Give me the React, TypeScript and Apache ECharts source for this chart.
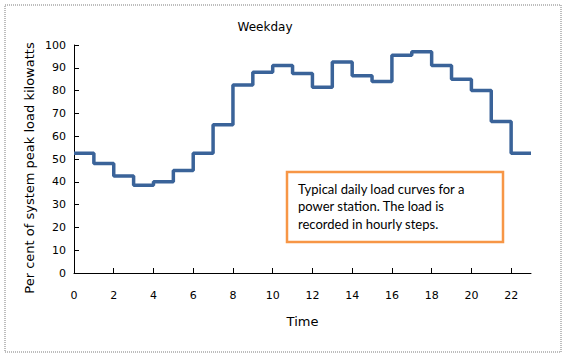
import React, { useEffect, useRef } from "react";
import * as echarts from "echarts";

const titleText = "Weekday";
const xAxisName = "Time";
const yAxisName = "Per cent of system peak load kilowatts";
const hours = [0, 1, 2, 3, 4, 5, 6, 7, 8, 9, 10, 11, 12, 13, 14, 15, 16, 17, 18, 19, 20, 21, 22];
const loadPercent = [52.5, 48, 42.5, 38.5, 40, 45, 52.5, 65, 82.5, 88, 91, 87.5, 81.5, 92.5, 86.5, 84, 95.5, 97, 91, 85, 80, 66.5, 52.5];
const xTickLabels = [0, 2, 4, 6, 8, 10, 12, 14, 16, 18, 20, 22];
const noteLines = [
  "Typical daily load curves for a",
  "power station. The load is",
  "recorded in hourly steps.",
];

export default function App() {
  const ref = useRef<HTMLDivElement>(null);
  useEffect(() => {
    if (!ref.current) return;
    const chart = echarts.init(ref.current, undefined, { renderer: "svg" });
    const data: [number, number][] = hours.map((h, i) => [h, loadPercent[i]]);
    data.push([hours[hours.length - 1] + 1, loadPercent[loadPercent.length - 1]]);
    const font = "DejaVu Sans";
    chart.setOption({
      animation: false,
      backgroundColor: "#ffffff",
      title: {
        text: titleText,
        left: 260,
        top: 16,
        textAlign: "center",
        textStyle: { fontFamily: font, fontSize: 12, fontWeight: "normal", color: "#000" },
      },
      grid: { left: 74, right: 36, top: 45, bottom: 87, containLabel: false },
      xAxis: {
        type: "value",
        min: 0,
        max: 23,
        interval: 2,
        name: xAxisName,
        nameLocation: "middle",
        nameGap: 42,
        nameTextStyle: { fontFamily: font, fontSize: 13, color: "#000" },
        splitLine: { show: false },
        axisLine: { lineStyle: { color: "#000", width: 1 } },
        axisTick: { inside: true, length: 5, lineStyle: { color: "#000" }, customValues: xTickLabels },
        axisLabel: { fontFamily: font, fontSize: 11, color: "#000", margin: 17, customValues: xTickLabels },
      },
      yAxis: {
        type: "value",
        min: 0,
        max: 100,
        interval: 10,
        splitLine: { show: false },
        axisLine: { show: true, lineStyle: { color: "#000", width: 1 } },
        axisTick: { show: true, inside: true, length: 5, lineStyle: { color: "#000" } },
        axisLabel: { fontFamily: font, fontSize: 11, color: "#000", margin: 8 },
      },
      series: [
        {
          type: "line",
          step: "end",
          data,
          showSymbol: false,
          symbol: "none",
          lineStyle: { color: "#3a6399", width: 3.5 },
        },
      ],
      graphic: [
        {
          type: "rect",
          shape: { x: 5, y: 5, width: 556, height: 347 },
          style: { fill: "none", stroke: "#a8a8a8", lineWidth: 1.5, lineDash: [1, 1] },
          silent: true,
        },
        {
          type: "text",
          x: 29,
          y: 168,
          rotation: Math.PI / 2,
          style: {
            text: yAxisName,
            fontFamily: font,
            fontSize: 13,
            fill: "#000",
            align: "center",
            verticalAlign: "middle",
          },
        },
        {
          type: "rect",
          shape: { x: 287, y: 172, width: 216, height: 70 },
          style: { fill: "#ffffff", stroke: "#f79646", lineWidth: 2.5 },
          z: 10,
        },
        {
          type: "text",
          left: 298,
          top: 180,
          z: 11,
          style: {
            text: noteLines.join("\n"),
            fontFamily: "Lato",
            fontSize: 13,
            lineHeight: 17.5,
            fill: "#000",
          },
        },
      ],
    });
    return () => chart.dispose();
  }, []);
  return (
    <div
      ref={ref}
      style={{ position: "fixed", left: 0, top: 0, width: 567, height: 360 }}
    />
  );
}
